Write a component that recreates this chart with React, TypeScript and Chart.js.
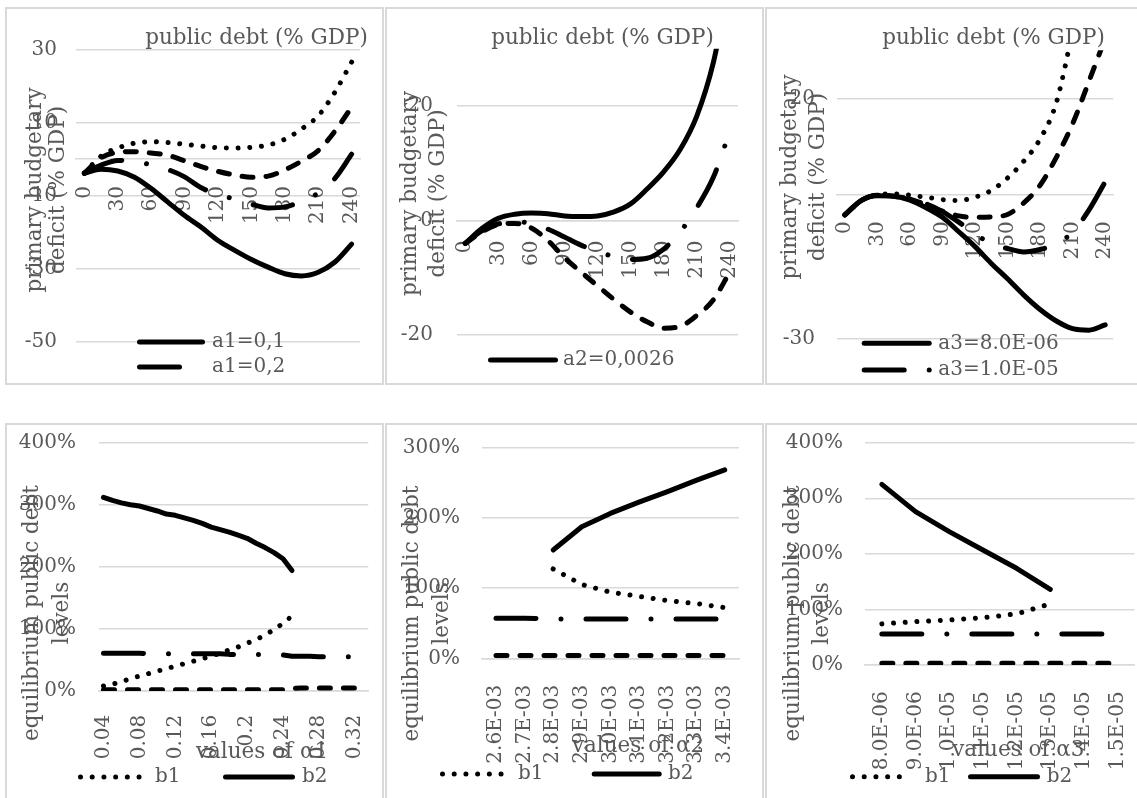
import React, { useEffect, useRef } from 'react';
import { Chart, registerables } from 'chart.js';

Chart.register(...registerables);

const INK = '#000000';
const TEXT = '#595959';
const GRID = '#d9d9d9';
const FONT = '"DejaVu Serif", serif';
const PANEL_W = 379;
const PANEL_H = 378;
const LINE_W = 5;

Chart.defaults.font.family = FONT;
Chart.defaults.font.size = 20;
Chart.defaults.color = TEXT;

// ---------- primary deficit vs public debt (% GDP) ----------
const debtLevels = [0, 15, 30, 45, 60, 75, 90, 105, 120, 135, 150, 165, 180, 195, 210, 225, 240];
const debtTickValues = [0, 30, 60, 90, 120, 150, 180, 210, 240];

const a1Labels = ['a1=0,1', 'a1=0,2', 'a1=0,3', 'a1=0,4'];
const a1Solid = [-3.9, -2.8, -3.3, -5.0, -8.1, -11.8, -15.5, -18.7, -22.3, -25.0, -27.5, -29.6, -31.4, -32.0, -31.0, -28.2, -23.3];
const a1DashDot = [-3.9, -1.7, -0.4, -0.7, -1.6, -2.9, -4.9, -7.9, -9.7, -11.0, -12.4, -13.4, -13.1, -11.6, -9.3, -5.3, 1.3];
const a1Dashed = [-3.9, 0.3, 1.8, 2.0, 1.6, 1.0, -0.5, -2.1, -3.4, -4.4, -5.0, -4.7, -3.0, -0.6, 2.3, 7.6, 14.2];
const a1Dotted = [-3.9, 0.8, 3.0, 4.3, 4.7, 4.5, 4.0, 3.5, 3.1, 3.0, 3.2, 3.8, 5.4, 8.2, 11.8, 18.3, 26.5];
const a1AxisTicks = [-50, -30, -10, 10, 30];

const a2Labels = ['a2=0,0026', 'a2=0,0028', 'a2=0,0030'];
const a2Solid = [-4.0, -1.4, 0.4, 1.1, 1.3, 1.2, 0.8, 0.7, 0.8, 1.5, 2.9, 5.5, 8.5, 12.4, 18.2, 27.5, 42.0];
const a2DashDot = [-4.0, -1.8, -0.6, -0.1, -0.6, -1.5, -2.9, -4.3, -5.4, -6.3, -6.8, -6.6, -5.0, -2.0, 2.2, 7.5, 15.5];
const a2Dashed = [-4.0, -2.0, -0.7, -0.5, -1.3, -3.5, -6.5, -9.0, -11.4, -13.8, -16.0, -17.7, -18.8, -18.5, -16.6, -13.9, -9.0];
const a2AxisTicks = [-20, 0, 20];

const a3Labels = ['a3=8.0E-06', 'a3=1.0E-05', 'a3=1.2E-05', 'a3=1.4E-05'];
const a3Solid = [-4.3, -1.3, -0.3, -0.4, -1.2, -2.8, -4.8, -7.8, -10.9, -14.4, -17.6, -21.0, -24.0, -26.4, -28.0, -28.3, -27.2];
const a3DashDot = [-4.3, -1.3, -0.2, -0.4, -1.0, -2.0, -3.6, -5.8, -8.3, -10.2, -11.3, -12.0, -11.5, -10.3, -7.9, -3.3, 2.6];
const a3Dashed = [-4.3, -1.3, -0.2, -0.4, -1.0, -2.2, -3.5, -4.5, -4.8, -4.7, -4.2, -1.8, 1.9, 7.7, 14.7, 23.5, 32.5];
const a3Dotted = [-4.3, -1.3, -0.1, 0.1, -0.2, -0.6, -1.1, -1.3, -0.6, 0.8, 3.4, 6.9, 11.5, 19.1, 34.0, 50.0, 70.0];
const a3AxisTicks = [-30, 20];

// ---------- equilibrium public debt levels ----------
const equilibriumLabels = ['b1', 'b2', 'b3', 'b4'];

const alpha1Values = [0.04, 0.05, 0.06, 0.07, 0.08, 0.09, 0.1, 0.11, 0.12, 0.13, 0.14, 0.15, 0.16, 0.17, 0.18, 0.19, 0.2, 0.21, 0.22, 0.23, 0.24, 0.25, 0.26, 0.27, 0.28, 0.29, 0.3, 0.31, 0.32, 0.33];
const alpha1B1 = [8, 11, 15, 20, 24, 28, 32, 36, 40, 44, 48, 52, 56, 61, 66, 71, 77, 83, 90, 99, 109, 121, null, null, null, null, null, null, null, null];
const alpha1B2 = [312, 307, 303, 300, 298, 294, 290, 285, 283, 279, 275, 270, 264, 260, 256, 251, 246, 238, 231, 223, 213, 194, null, null, null, null, null, null, null, null];
const alpha1B3 = [61, 61, 61, 61, 61, 60, 60, 60, 60, 60, 60, 60, 60, 60, 59, 59, 59, 59, 59, 59, 58, 56, 56, 56, 55, 55, 55, 55, 55, null];
const alpha1B4 = [2, 2, 2, 2, 2, 2, 2, 2, 2, 2, 2, 2, 2, 2, 2, 2, 2, 2, 2, 2, 2, 4, 5, 5, 5, 5, 5, 5, 5, null];

const alpha2Values = ['2.6E-03', '2.7E-03', '2.8E-03', '2.9E-03', '3.0E-03', '3.1E-03', '3.2E-03', '3.3E-03', '3.4E-03'];
const alpha2B1 = [null, null, 127, 105, 94, 88, 82, 78, 72];
const alpha2B2 = [null, null, 154, 187, 206, 222, 237, 253, 268];
const alpha2B3 = [57, 57, 56, 56, 56, 56, 56, 56, 56];
const alpha2B4 = [4, 4, 4, 4, 4, 4, 4, 4, 4];

const alpha3Values = ['8.0E-06', '9.0E-06', '1.0E-05', '1.1E-05', '1.2E-05', '1.3E-05', '1.4E-05', '1.5E-05'];
const alpha3B1 = [74, 78, 81, 85, 92, 110, null, null];
const alpha3B2 = [325, 276, 240, 207, 174, 136, null, null];
const alpha3B3 = [56, 56, 56, 56, 56, 56, 56, 56];
const alpha3B4 = [3, 3, 3, 3, 3, 3, 3, 3];

// ---------- line patterns (round caps turn 0.01 dashes into dots) ----------
const DASH = {
  solid: [] as number[],
  dash: [11, 13],
  dot: [0.01, 11.7],
  dashDot: [40, 25, 0.01, 25],
};

type Frame = { left: number; right: number; top: number; bottom: number };
type LegendEntry = { index: number; x0: number; x1: number; tx: number; y: number };
type Overlay = {
  title?: { text: string; x: number; y: number };
  xTitle?: { text: string; x: number; y: number };
  yTitle: { lines: string[]; xs: number[]; cy: number };
  legend: LegendEntry[];
};

function lineDataset(label: string, data: any[], dash: number[], smooth: boolean) {
  return {
    label,
    data,
    borderColor: INK,
    backgroundColor: INK,
    borderWidth: LINE_W,
    borderDash: dash,
    borderCapStyle: 'round',
    borderJoinStyle: 'round',
    pointRadius: 0,
    pointHoverRadius: 0,
    fill: false,
    spanGaps: false,
    tension: smooth ? 0.4 : 0,
    cubicInterpolationMode: smooth ? 'monotone' : 'default',
  };
}

function overlayPlugin(o: Overlay) {
  return {
    id: 'panelOverlay',
    afterDraw(chart: any) {
      const ctx: CanvasRenderingContext2D = chart.ctx;
      ctx.save();
      ctx.fillStyle = TEXT;
      ctx.font = `21.5px ${FONT}`;
      if (o.title) {
        ctx.textAlign = 'center';
        ctx.textBaseline = 'alphabetic';
        ctx.fillText(o.title.text, o.title.x, o.title.y);
      }
      if (o.xTitle) {
        ctx.textAlign = 'center';
        ctx.textBaseline = 'middle';
        ctx.fillText(o.xTitle.text, o.xTitle.x, o.xTitle.y);
      }
      ctx.textAlign = 'center';
      ctx.textBaseline = 'middle';
      o.yTitle.lines.forEach((line, i) => {
        ctx.save();
        ctx.translate(o.yTitle.xs[i], o.yTitle.cy);
        ctx.rotate(-Math.PI / 2);
        ctx.fillText(line, 0, 0);
        ctx.restore();
      });
      o.legend.forEach((item) => {
        const ds = chart.data.datasets[item.index];
        const half = ds.borderWidth / 2;
        ctx.save();
        ctx.strokeStyle = ds.borderColor;
        ctx.lineWidth = ds.borderWidth;
        ctx.lineCap = 'round';
        ctx.setLineDash(ds.borderDash || []);
        ctx.beginPath();
        ctx.moveTo(item.x0 + half, item.y);
        ctx.lineTo(item.x1 - half, item.y);
        ctx.stroke();
        ctx.restore();
        ctx.font = `20px ${FONT}`;
        ctx.textAlign = 'left';
        ctx.textBaseline = 'middle';
        ctx.fillText(ds.label, item.tx, item.y);
      });
      ctx.restore();
    },
  };
}

type DeficitPanel = {
  left: number;
  top: number;
  frame: Frame;
  yMin: number;
  yMax: number;
  yTicks: number[];
  yGap: number;
  xGap: number;
  series: { label: string; values: number[]; dash: number[] }[];
  overlay: Overlay;
};

function deficitConfig(p: DeficitPanel): any {
  const datasets = p.series.map((s) => ({
    ...lineDataset(s.label, debtLevels.map((x, i) => ({ x, y: s.values[i] })), s.dash, true),
    clip: { left: 8, right: 8, top: 0, bottom: 8 },
  }));
  return {
    type: 'line',
    data: { datasets },
    options: {
      animation: false,
      responsive: false,
      devicePixelRatio: 1,
      events: [],
      layout: {
        padding: { left: 0, top: p.frame.top, right: PANEL_W - p.frame.right, bottom: PANEL_H - p.frame.bottom },
      },
      plugins: { legend: { display: false }, tooltip: { enabled: false }, title: { display: false } },
      scales: {
        x: {
          type: 'linear',
          min: -7.5,
          max: 247.5,
          position: { y: 0 },
          grid: { display: false },
          border: { display: true, color: GRID, width: 1.5 },
          ticks: { autoSkip: false, minRotation: 90, maxRotation: 90, padding: p.xGap, color: TEXT, font: { size: 20 } },
          afterBuildTicks: (s: any) => {
            s.ticks = debtTickValues.map((value) => ({ value }));
          },
          afterFit: (s: any) => {
            s.paddingLeft = 0;
            s.paddingRight = 0;
            s.paddingTop = 0;
            s.paddingBottom = 0;
          },
        },
        y: {
          type: 'linear',
          position: 'left',
          min: p.yMin,
          max: p.yMax,
          grid: { color: GRID, lineWidth: 1.5, drawTicks: false },
          border: { display: false },
          ticks: { padding: p.yGap, color: TEXT, font: { size: 20 } },
          afterBuildTicks: (s: any) => {
            s.ticks = p.yTicks.map((value) => ({ value }));
          },
          afterFit: (s: any) => {
            s.width = p.frame.left;
            s.paddingTop = 0;
            s.paddingBottom = 0;
          },
        },
      },
    },
    plugins: [overlayPlugin(p.overlay)],
  };
}

type EquilibriumPanel = {
  left: number;
  top: number;
  frame: Frame;
  categories: string[];
  labelEvery: number;
  yMax: number;
  yGap: number;
  xGap: number;
  series: { label: string; values: (number | null)[]; dash: number[] }[];
  overlay: Overlay;
};

function equilibriumConfig(p: EquilibriumPanel): any {
  return {
    type: 'line',
    data: {
      labels: p.categories,
      datasets: p.series.map((s) => lineDataset(s.label, s.values, s.dash, false)),
    },
    options: {
      animation: false,
      responsive: false,
      devicePixelRatio: 1,
      events: [],
      layout: { padding: { left: 0, top: p.frame.top, right: PANEL_W - p.frame.right, bottom: 0 } },
      plugins: { legend: { display: false }, tooltip: { enabled: false }, title: { display: false } },
      scales: {
        x: {
          type: 'category',
          offset: true,
          position: 'bottom',
          grid: { display: false },
          border: { display: true, color: GRID, width: 1.5 },
          ticks: {
            autoSkip: false,
            minRotation: 90,
            maxRotation: 90,
            padding: p.xGap,
            color: TEXT,
            font: { size: 20 },
            callback: function (this: any, value: any, index: number) {
              return index % p.labelEvery === 0 ? this.getLabelForValue(value) : '';
            },
          },
          afterFit: (s: any) => {
            s.height = PANEL_H - p.frame.bottom;
            s.paddingLeft = 0;
            s.paddingRight = 0;
          },
        },
        y: {
          type: 'linear',
          position: 'left',
          min: 0,
          max: p.yMax,
          grid: { color: GRID, lineWidth: 1.5, drawTicks: false },
          border: { display: false },
          ticks: { stepSize: 100, padding: p.yGap, color: TEXT, font: { size: 20 }, callback: (v: any) => `${v}%` },
          afterFit: (s: any) => {
            s.width = p.frame.left;
            s.paddingTop = 0;
            s.paddingBottom = 0;
          },
        },
      },
    },
    plugins: [overlayPlugin(p.overlay)],
  };
}

const deficitTitle = 'public debt (% GDP)';
const deficitAxis = ['primary budgetary', 'deficit (% GDP)'];
const equilibriumAxis = ['equilibrium public debt', 'levels'];

const deficitPanels: DeficitPanel[] = [
  {
    left: 5,
    top: 7,
    frame: { left: 71, right: 355, top: 42.3, bottom: 334.7 },
    yMin: -50,
    yMax: 30,
    yTicks: a1AxisTicks,
    yGap: 19,
    xGap: 19,
    series: [
      { label: a1Labels[0], values: a1Solid, dash: DASH.solid },
      { label: a1Labels[1], values: a1DashDot, dash: DASH.dashDot },
      { label: a1Labels[2], values: a1Dashed, dash: DASH.dash },
      { label: a1Labels[3], values: a1Dotted, dash: DASH.dot },
    ],
    overlay: {
      title: { text: deficitTitle, x: 251.5, y: 37 },
      yTitle: { lines: deficitAxis, xs: [30, 53], cy: 183 },
      legend: [
        { index: 0, x0: 132, x1: 200, tx: 207, y: 335 },
        { index: 1, x0: 132, x1: 201, tx: 207, y: 360 },
      ],
    },
  },
  {
    left: 385,
    top: 7,
    frame: { left: 72, right: 353, top: 41.8, bottom: 328 },
    yMin: -20,
    yMax: 30,
    yTicks: a2AxisTicks,
    yGap: 24,
    xGap: 12,
    series: [
      { label: a2Labels[0], values: a2Solid, dash: DASH.solid },
      { label: a2Labels[1], values: a2DashDot, dash: DASH.dashDot },
      { label: a2Labels[2], values: a2Dashed, dash: DASH.dash },
    ],
    overlay: {
      title: { text: deficitTitle, x: 217.5, y: 37 },
      yTitle: { lines: deficitAxis, xs: [25, 53], cy: 186.5 },
      legend: [{ index: 0, x0: 103, x1: 173, tx: 178, y: 353 }],
    },
  },
  {
    left: 765,
    top: 7,
    frame: { left: 71.7, right: 348.3, top: 43.3, bottom: 331.3 },
    yMin: -30,
    yMax: 30,
    yTicks: a3AxisTicks,
    yGap: 21.7,
    xGap: 19,
    series: [
      { label: a3Labels[0], values: a3Solid, dash: DASH.solid },
      { label: a3Labels[1], values: a3DashDot, dash: DASH.dashDot },
      { label: a3Labels[2], values: a3Dashed, dash: DASH.dash },
      { label: a3Labels[3], values: a3Dotted, dash: DASH.dot },
    ],
    overlay: {
      title: { text: deficitTitle, x: 228.5, y: 37 },
      yTitle: { lines: deficitAxis, xs: [25, 53], cy: 170 },
      legend: [
        { index: 0, x0: 96.7, x1: 166.7, tx: 173.3, y: 336.3 },
        { index: 1, x0: 96.7, x1: 168, tx: 173.3, y: 363 },
      ],
    },
  },
];

const equilibriumPanels: EquilibriumPanel[] = [
  {
    left: 5,
    top: 423,
    frame: { left: 94, right: 363.3, top: 19.7, bottom: 268 },
    categories: alpha1Values.map(String),
    labelEvery: 4,
    yMax: 400,
    yGap: 23,
    xGap: 15.7,
    series: [
      { label: equilibriumLabels[0], values: alpha1B1, dash: DASH.dot },
      { label: equilibriumLabels[1], values: alpha1B2, dash: DASH.solid },
      { label: equilibriumLabels[2], values: alpha1B3, dash: DASH.dashDot },
      { label: equilibriumLabels[3], values: alpha1B4, dash: DASH.dash },
    ],
    overlay: {
      xTitle: { text: 'values of α1', x: 257, y: 329 },
      yTitle: { lines: equilibriumAxis, xs: [27, 57], cy: 190 },
      legend: [
        { index: 0, x0: 73, x1: 140, tx: 150, y: 354 },
        { index: 1, x0: 218, x1: 290, tx: 297, y: 354 },
      ],
    },
  },
  {
    left: 385,
    top: 423,
    frame: { left: 96.7, right: 354, top: 24.3, bottom: 235.3 },
    categories: alpha2Values,
    labelEvery: 1,
    yMax: 300,
    yGap: 21.7,
    xGap: 18.4,
    series: [
      { label: equilibriumLabels[0], values: alpha2B1, dash: DASH.dot },
      { label: equilibriumLabels[1], values: alpha2B2, dash: DASH.solid },
      { label: equilibriumLabels[2], values: alpha2B3, dash: DASH.dashDot },
      { label: equilibriumLabels[3], values: alpha2B4, dash: DASH.dash },
    ],
    overlay: {
      xTitle: { text: 'values of α2', x: 253, y: 323.7 },
      yTitle: { lines: equilibriumAxis, xs: [27, 57], cy: 190.5 },
      legend: [
        { index: 0, x0: 55, x1: 123, tx: 133, y: 351 },
        { index: 1, x0: 206.7, x1: 276.7, tx: 283, y: 351 },
      ],
    },
  },
  {
    left: 765,
    top: 423,
    frame: { left: 100, right: 369.5, top: 19.7, bottom: 242 },
    categories: alpha3Values,
    labelEvery: 1,
    yMax: 400,
    yGap: 22,
    xGap: 18.3,
    series: [
      { label: equilibriumLabels[0], values: alpha3B1, dash: DASH.dot },
      { label: equilibriumLabels[1], values: alpha3B2, dash: DASH.solid },
      { label: equilibriumLabels[2], values: alpha3B3, dash: DASH.dashDot },
      { label: equilibriumLabels[3], values: alpha3B4, dash: DASH.dash },
    ],
    overlay: {
      xTitle: { text: 'values of α3', x: 253.3, y: 327 },
      yTitle: { lines: equilibriumAxis, xs: [28, 57], cy: 190.5 },
      legend: [
        { index: 0, x0: 85, x1: 148, tx: 160, y: 353.7 },
        { index: 1, x0: 203, x1: 275, tx: 281.7, y: 353.7 },
      ],
    },
  },
];

function ChartPanel({ left, top, config }: { left: number; top: number; config: () => any }) {
  const ref = useRef<HTMLCanvasElement>(null);
  useEffect(() => {
    if (!ref.current) return;
    const chart = new Chart(ref.current, config());
    return () => chart.destroy();
  }, []);
  return (
    <>
      <div
        style={{
          position: 'absolute',
          left,
          top,
          width: PANEL_W,
          height: PANEL_H,
          border: `2px solid ${GRID}`,
          boxSizing: 'border-box',
        }}
      />
      <canvas
        ref={ref}
        width={PANEL_W}
        height={PANEL_H}
        style={{ position: 'absolute', left, top, width: PANEL_W, height: PANEL_H }}
      />
    </>
  );
}

export default function App() {
  return (
    <div
      style={{
        position: 'absolute',
        left: 0,
        top: 0,
        width: 1137,
        height: 798,
        overflow: 'hidden',
        background: '#ffffff',
      }}
    >
      {deficitPanels.map((p, i) => (
        <ChartPanel key={`d${i}`} left={p.left} top={p.top} config={() => deficitConfig(p)} />
      ))}
      {equilibriumPanels.map((p, i) => (
        <ChartPanel key={`e${i}`} left={p.left} top={p.top} config={() => equilibriumConfig(p)} />
      ))}
    </div>
  );
}
